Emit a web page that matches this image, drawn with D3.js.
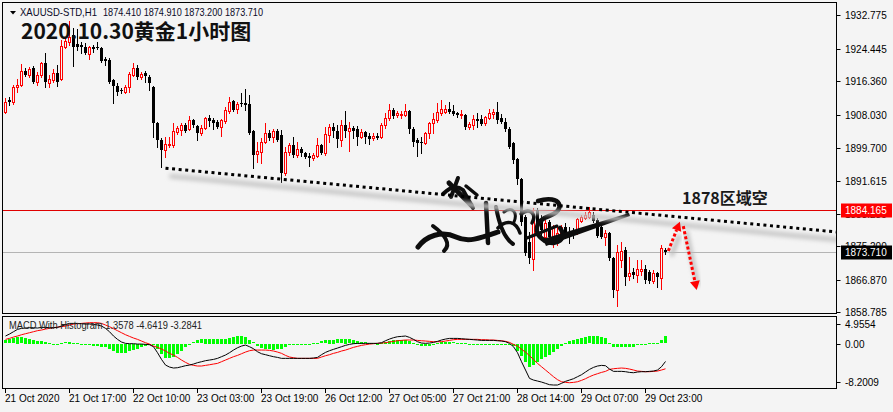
<!DOCTYPE html>
<html><head><meta charset="utf-8">
<script src="https://cdn.jsdelivr.net/npm/d3@7"></script>
<style>body{margin:0;background:#f4f4f4}svg{display:block}</style>
</head><body><svg id="c" width="893" height="412"></svg>
<script>
// ---------- data (XAUUSD H1) ----------
const open=[1908.69,1911.68,1911.18,1914.92,1915.42,1918.90,1917.91,1919.65,1916.16,1917.91,
1920.90,1915.91,1916.66,1918.41,1916.91,1924.88,1926.13,1927.87,1925.63,1925.38,
1924.88,1923.14,1924.88,1924.88,1924.63,1921.89,1921.64,1916.66,1915.17,1914.17,
1913.67,1914.92,1917.91,1919.65,1917.41,1918.41,1917.41,1914.92,1905.95,1901.72,
1899.23,1900.47,1900.47,1903.71,1904.21,1905.45,1904.46,1906.70,1905.20,1903.46,
1904.71,1907.20,1906.70,1906.20,1904.95,1906.45,1908.94,1911.43,1909.44,1910.93,
1910.93,1910.68,1903.96,1898.23,1898.73,1901.22,1903.46,1902.46,1903.96,1902.96,
1893.50,1898.73,1900.47,1897.98,1899.47,1898.48,1897.73,1897.23,1897.73,1900.47,
1898.48,1902.96,1904.95,1903.96,1901.72,1905.45,1903.96,1904.71,1904.46,1902.46,
1903.71,1902.71,1902.21,1902.71,1902.46,1905.45,1907.20,1909.19,1907.94,1907.94,
1907.94,1908.94,1904.46,1901.72,1901.22,1900.97,1903.46,1905.95,1906.70,1908.44,
1908.69,1909.44,1908.94,1908.44,1907.94,1907.94,1904.95,1905.45,1906.95,1906.95,
1905.95,1907.20,1908.19,1908.69,1907.20,1906.20,1904.46,1900.97,1896.98,1892.00,
1882.54,1876.31,1872.07,1884.28,1881.29,1877.56,1881.29,1877.56,1876.81,1878.05,
1880.05,1878.80,1878.80,1878.55,1881.54,1882.29,1882.54,1883.04,1881.79,1880.05,
1877.56,1878.55,1872.32,1864.35,1871.82,1874.32,1867.84,1868.83,1868.09,1869.08,
1869.58,1868.83,1866.59,1868.58,1867.34,1874.41];
const high=[1912.18,1912.43,1915.42,1916.91,1920.65,1919.65,1919.90,1920.15,1918.65,1921.15,
1923.39,1917.91,1919.40,1920.40,1926.63,1927.37,1931.36,1929.61,1929.36,1926.13,
1925.88,1925.13,1925.38,1926.13,1924.88,1922.39,1922.14,1916.91,1915.91,1914.67,
1915.42,1918.65,1920.90,1920.40,1918.65,1918.90,1917.91,1915.17,1906.20,1902.21,
1902.46,1902.46,1905.95,1905.20,1905.95,1905.95,1907.70,1906.95,1905.45,1905.45,
1907.45,1907.94,1907.20,1906.70,1906.95,1909.94,1912.43,1911.68,1911.18,1913.42,
1914.42,1912.93,1904.21,1901.22,1902.21,1905.95,1904.21,1904.46,1904.46,1904.21,
1899.97,1900.97,1902.46,1901.22,1899.97,1898.73,1898.48,1898.48,1902.21,1900.72,
1904.95,1905.70,1905.95,1905.45,1906.70,1908.94,1906.20,1905.20,1905.20,1904.46,
1903.96,1903.46,1903.46,1903.46,1905.95,1908.44,1910.68,1909.69,1908.94,1908.94,
1910.68,1909.19,1904.95,1902.21,1902.46,1903.71,1906.20,1908.44,1910.93,1911.68,
1910.43,1911.18,1910.43,1908.69,1909.19,1908.19,1906.20,1907.94,1908.44,1907.94,
1907.70,1909.44,1909.44,1911.18,1908.19,1907.20,1904.95,1901.22,1897.23,1892.25,
1883.04,1878.80,1884.78,1884.78,1883.04,1881.79,1881.79,1880.55,1880.55,1880.55,
1881.05,1880.05,1879.80,1882.29,1883.04,1883.79,1885.03,1883.79,1882.29,1881.05,
1879.30,1878.80,1872.57,1875.56,1876.31,1875.06,1872.57,1869.83,1871.82,1871.82,
1870.58,1869.33,1869.33,1868.83,1875.56,1874.91];
const low=[1908.44,1910.43,1910.68,1913.67,1915.17,1917.66,1917.41,1915.91,1915.42,1917.41,
1914.92,1914.92,1916.16,1915.17,1916.66,1924.63,1925.38,1920.15,1924.14,1923.39,
1923.14,1921.89,1923.64,1924.38,1921.15,1920.40,1915.91,1910.93,1912.93,1913.42,
1913.42,1913.67,1917.66,1916.91,1916.91,1916.16,1914.17,1902.46,1899.97,1894.99,
1897.48,1899.97,1899.97,1903.21,1902.96,1903.71,1904.21,1904.95,1901.72,1902.96,
1904.46,1905.20,1904.46,1904.71,1902.71,1905.95,1908.44,1908.94,1908.44,1910.19,
1909.19,1903.21,1894.74,1896.24,1895.99,1900.97,1901.72,1901.22,1901.47,1891.25,
1893.00,1897.98,1897.48,1897.48,1897.73,1897.23,1895.24,1896.73,1897.48,1898.23,
1897.98,1901.22,1902.46,1899.97,1900.22,1902.46,1898.98,1902.21,1900.47,1902.21,
1900.97,1900.72,1901.72,1901.97,1902.21,1904.71,1906.70,1907.20,1907.45,1907.20,
1907.70,1903.46,1900.22,1897.73,1898.48,1900.72,1902.21,1903.46,1906.20,1907.94,
1908.44,1908.44,1907.94,1907.45,1907.20,1904.46,1904.46,1904.46,1904.95,1905.45,
1905.45,1906.95,1907.20,1905.95,1905.95,1903.96,1899.72,1895.99,1890.76,1880.55,
1873.07,1871.07,1869.33,1878.55,1878.05,1876.81,1876.81,1875.06,1875.56,1877.56,
1877.31,1876.06,1877.31,1878.30,1881.29,1882.04,1882.29,1881.29,1877.56,1877.31,
1875.56,1871.82,1862.61,1860.37,1870.08,1865.60,1866.84,1867.34,1866.34,1868.09,
1866.09,1866.09,1866.09,1865.10,1864.60,1873.20];
const close=[1911.18,1911.18,1914.92,1915.42,1918.90,1917.91,1919.40,1916.16,1917.91,1920.90,
1916.16,1916.91,1918.41,1916.16,1925.13,1926.38,1927.37,1924.88,1924.88,1924.88,
1923.39,1924.88,1924.38,1924.63,1921.39,1921.39,1916.16,1915.17,1913.67,1913.92,
1914.92,1918.16,1919.65,1917.41,1918.16,1917.66,1915.91,1905.95,1901.72,1899.23,
1900.72,1900.72,1903.96,1904.71,1905.45,1903.96,1906.70,1905.45,1903.46,1904.71,
1907.20,1906.45,1905.95,1904.95,1906.70,1909.19,1911.18,1909.19,1910.68,1910.68,
1910.43,1903.46,1897.98,1898.98,1901.22,1903.46,1902.21,1903.96,1901.72,1893.50,
1898.73,1900.47,1897.98,1899.47,1898.48,1897.48,1897.23,1897.98,1900.47,1898.48,
1903.21,1904.95,1903.96,1901.97,1905.45,1903.96,1904.71,1903.96,1902.46,1903.71,
1902.46,1901.97,1902.71,1902.21,1905.45,1907.20,1909.19,1907.70,1908.44,1908.19,
1908.94,1904.46,1901.22,1900.97,1900.97,1903.46,1905.95,1906.95,1908.69,1909.44,
1909.44,1908.69,1908.19,1907.94,1908.19,1904.95,1905.70,1906.95,1906.45,1905.70,
1907.45,1908.44,1908.69,1906.70,1906.20,1904.46,1899.97,1896.73,1892.00,1881.29,
1873.57,1872.32,1882.54,1881.05,1879.30,1881.05,1877.56,1880.05,1878.55,1880.05,
1878.55,1878.55,1878.30,1882.04,1882.54,1883.04,1883.79,1881.54,1877.80,1877.56,
1878.55,1872.32,1864.35,1873.82,1874.07,1867.59,1868.58,1868.09,1869.58,1869.58,
1866.84,1866.59,1868.58,1867.59,1874.81,1873.71];

const macd=[1.43,1.80,2.23,2.66,2.85,2.91,2.97,2.97,2.91,3.03,
3.03,2.97,2.97,3.03,3.28,3.53,3.77,3.77,3.77,3.71,
3.65,3.65,3.59,3.47,3.28,2.85,2.23,1.43,0.81,0.32,
0.07,0.01,0.01,-0.06,-0.06,-0.12,-0.18,-0.55,-1.66,-2.90,
-3.95,-4.32,-4.50,-4.44,-4.26,-4.07,-3.95,-3.76,-3.51,-3.33,
-3.14,-3.02,-2.90,-2.71,-2.40,-2.09,-1.66,-1.17,-0.74,-0.43,
-0.24,-0.55,-0.92,-1.48,-1.85,-2.03,-2.22,-2.40,-2.53,-2.71,
-2.71,-2.71,-2.71,-2.71,-2.71,-2.71,-2.71,-2.65,-2.53,-2.03,
-1.60,-1.29,-1.04,-0.80,-0.55,-0.30,-0.12,0.01,0.07,0.07,
0.07,0.07,0.07,0.07,0.19,0.56,0.87,1.12,1.30,1.36,
1.43,1.18,0.81,0.38,0.13,0.07,0.13,0.25,0.44,0.69,
0.87,0.99,0.99,0.99,0.93,0.87,0.81,0.75,0.69,0.62,
0.62,0.62,0.62,0.56,0.50,0.38,0.07,-0.55,-1.66,-3.33,
-4.87,-6.42,-6.73,-6.91,-7.10,-7.34,-7.59,-7.65,-7.65,-7.34,
-6.97,-6.73,-6.48,-6.11,-5.74,-5.24,-4.75,-4.38,-4.13,-4.01,
-4.07,-4.69,-5.12,-5.12,-5.12,-5.18,-5.31,-5.37,-5.24,-5.18,
-5.18,-5.12,-5.06,-4.87,-4.26,-3.2841];
const signal=[0.81,0.99,1.24,1.43,1.67,1.86,2.04,2.23,2.42,2.54,
2.72,2.85,2.97,3.09,3.16,3.28,3.47,3.65,3.71,3.77,
3.84,3.90,3.90,3.90,3.77,3.47,3.16,2.79,2.42,2.04,
1.67,1.36,1.06,0.81,0.50,0.19,-0.06,-0.43,-0.67,-0.98,
-1.35,-1.78,-2.09,-2.53,-3.02,-3.45,-3.82,-4.01,-4.13,-4.13,
-4.01,-3.89,-3.76,-3.64,-3.33,-3.02,-2.71,-2.40,-2.16,-1.85,
-1.54,-1.29,-1.17,-1.17,-1.17,-1.17,-1.23,-1.35,-1.54,-1.78,
-2.16,-2.46,-2.59,-2.71,-2.71,-2.71,-2.71,-2.71,-2.71,-2.46,
-2.22,-2.03,-1.78,-1.60,-1.35,-1.17,-0.92,-0.67,-0.49,-0.30,
-0.18,-0.06,0.01,0.07,0.13,0.19,0.32,0.44,0.56,0.62,
0.69,0.69,0.69,0.62,0.56,0.50,0.44,0.38,0.38,0.38,
0.50,0.62,0.75,0.81,0.81,0.81,0.81,0.81,0.81,0.75,
0.75,0.69,0.69,0.62,0.56,0.44,0.25,-0.12,-0.43,-1.04,
-1.54,-2.22,-2.90,-3.64,-4.26,-4.87,-5.49,-6.11,-6.66,-7.04,
-7.16,-7.22,-7.16,-7.04,-6.79,-6.48,-6.11,-5.80,-5.55,-5.31,
-5.12,-4.75,-4.63,-4.56,-4.50,-4.56,-4.69,-4.87,-5.06,-5.12,
-5.18,-5.18,-5.12,-5.06,-4.87,-4.6419];
const hist=[0.62,0.81,0.99,1.23,1.18,1.05,0.93,0.74,0.49,0.49,
0.31,0.12,0.00,-0.06,0.12,0.25,0.30,0.12,0.06,-0.06,
-0.19,-0.25,-0.31,-0.43,-0.49,-0.62,-0.93,-1.36,-1.61,-1.72,
-1.60,-1.35,-1.05,-0.87,-0.56,-0.31,-0.12,-0.12,-0.99,-1.92,
-2.60,-2.54,-2.41,-1.91,-1.24,-0.62,-0.13,0.25,0.62,0.80,
0.87,0.87,0.86,0.93,0.93,0.93,1.05,1.23,1.42,1.42,
1.30,0.74,0.25,-0.31,-0.68,-0.86,-0.99,-1.05,-0.99,-0.93,
-0.55,-0.25,-0.12,0.00,0.00,0.00,0.00,0.06,0.18,0.43,
0.62,0.74,0.74,0.80,0.80,0.87,0.80,0.68,0.56,0.37,
0.25,0.13,0.06,0.00,0.06,0.37,0.55,0.68,0.74,0.74,
0.74,0.49,0.12,-0.24,-0.43,-0.43,-0.31,-0.13,0.06,0.31,
0.37,0.37,0.24,0.18,0.12,0.06,0.00,-0.06,-0.12,-0.13,
-0.13,-0.07,-0.07,-0.06,-0.06,-0.06,-0.18,-0.43,-1.23,-2.29,
-3.33,-4.20,-3.83,-3.27,-2.84,-2.47,-2.10,-1.54,-0.99,-0.30,
0.19,0.49,0.68,0.93,1.05,1.24,1.36,1.42,1.42,1.30,
1.05,0.06,-0.49,-0.56,-0.62,-0.62,-0.62,-0.50,-0.18,-0.06,
0.00,0.06,0.06,0.19,0.61,1.3578];

const priceTicks=[1932.775,1924.445,1916.360,1908.030,1899.700,1891.615,1883.285,1875.200,1866.870,1858.785];
const macdTicks=[4.9554,0.00,-8.2009];
const macdTickLabels=["4.9554","0.00","-8.2009"];
const timeTickBars=[0,16,32,48,64,80,96,112,128,144,160];
const timeTickLabels=["21 Oct 2020","21 Oct 17:00","22 Oct 10:00","23 Oct 03:00","23 Oct 19:00","26 Oct 12:00","27 Oct 05:00","27 Oct 21:00","28 Oct 14:00","29 Oct 07:00","29 Oct 23:00"];
const levelPrice=1884.165;     // red horizontal level
const lastPrice=1873.710;      // bid line
const trendBars=[40,207.75], trendPrices=[1894.7,1878.8];
const arrowUpBars=[165.7,168.6], arrowUpPrices=[1874.07,1881.37];
const arrowDnBars=[169.45,172.8], arrowDnPrices=[1880.24,1864.35];
const headerSymbol="XAUUSD-STD,H1";
const headerValues="1874.410 1874.910 1873.200 1873.710";
const titleText="2020.10.30黄金1小时图";
const noteText="1878区域空";
const macdText="MACD With Histogram 1.3578 -4.6419 -3.2841";

// ---------- drawing ----------
const svg=d3.select("#c");
const BG="#f4f4f4";
const MT="'Liberation Sans','DejaVu Sans',sans-serif";
const L=2, R=836, T=2, B=313, MT0=316, MB=388;
const x=d3.scaleLinear().domain([0,165]).range([5.5,665.5]);
const y=d3.scaleLinear().domain([1858.785,1932.775]).range([312.3,15.3]);
const ym=d3.scaleLinear().domain([-8.2009,4.9554]).range([MB,MT0+1]);

const defs=svg.append("defs");
defs.append("clipPath").attr("id","cm").append("rect").attr("x",L).attr("y",T).attr("width",R-L).attr("height",B-T);
defs.append("clipPath").attr("id","cd").append("rect").attr("x",L).attr("y",MT0).attr("width",R-L).attr("height",MB-MT0);
defs.append("filter").attr("id","blur").attr("x","-20%").attr("y","-50%").attr("width","140%").attr("height","200%")
  .append("feGaussianBlur").attr("stdDeviation",2.2);

svg.append("rect").attr("width",893).attr("height",412).attr("fill",BG);

const gm=svg.append("g").attr("clip-path","url(#cm)");

// level line and bid line
gm.append("line").attr("x1",L).attr("x2",R).attr("y1",Math.round(y(levelPrice))+0.5).attr("y2",Math.round(y(levelPrice))+0.5)
  .attr("stroke","#e00000").attr("stroke-width",1);
gm.append("line").attr("x1",L).attr("x2",R).attr("y1",Math.round(y(lastPrice))+0.5).attr("y2",Math.round(y(lastPrice))+0.5)
  .attr("stroke","#b4b4b4").attr("stroke-width",1);

// candles
const bars=d3.range(close.length).map(i=>({i,o:open[i],h:high[i],l:low[i],c:close[i],up:close[i]>open[i]}));
const gc=gm.append("g").attr("shape-rendering","crispEdges");
gc.selectAll("line.w").data(bars).join("line").attr("class","w")
  .attr("x1",d=>x(d.i)).attr("x2",d=>x(d.i))
  .attr("y1",d=>Math.round(y(d.h))).attr("y2",d=>Math.round(y(d.l))+1)
  .attr("stroke",d=>d.up?"#ff0000":"#000");
gc.selectAll("rect.b").data(bars).join("rect").attr("class","b")
  .each(function(d){
    const t=Math.round(y(Math.max(d.o,d.c))), b=Math.round(y(Math.min(d.o,d.c)));
    const s=d3.select(this);
    if(d.up){
      s.attr("x",x(d.i)-1).attr("y",t+0.5).attr("width",2).attr("height",Math.max(b-t,1))
       .attr("fill",BG).attr("stroke","#ff0000").attr("stroke-width",1);
    } else {
      s.attr("x",x(d.i)-1.5).attr("y",t).attr("width",3).attr("height",Math.max(b-t,1)).attr("fill","#000");
    }
  });

// signature (decorative handwritten scribble)
const sig=gm.append("g").attr("fill","none").attr("stroke","#0d0d0d").attr("stroke-linecap","round").attr("stroke-linejoin","round");
[
 ["M449,183 C456,190 463,197 471,205",5],["M443,194 Q454,183 463,190 L473,208",4],["M458,178 L451,197",4],
 ["M466,186 L477,195",3.5],
 ["M418,247 C426,236 442,230 456,237 C468,243 481,238 498,232",5],
 ["M433,226 C444,234 452,244 444,251",4],
 ["M486,203 L488,243",4.5],["M496,207 C499,224 504,238 513,244",4],["M498,228 C506,219 516,221 520,233",3.5],
 ["M504,212 C512,206 518,212 514,222",3],
 ["M538,201 C561,194 567,210 549,216 C535,221 532,233 545,241 C557,247 568,238 560,228",4.5],
 ["M527,238 L557,226",3],["M521,214 C530,207 537,214 532,223",3.5]
].forEach(p=>sig.append("path").attr("d",p[0]).attr("stroke-width",p[1]));
gm.append("path").attr("d","M543,239 L629,213 L630,216 L546,246 Z").attr("fill","#0d0d0d");

// trend line (dotted with shadow)
const tl=[[x(trendBars[0]),y(trendPrices[0])],[x(trendBars[1]),y(trendPrices[1])]];
gm.append("line").attr("x1",tl[0][0]+4).attr("y1",tl[0][1]+8).attr("x2",tl[1][0]+4).attr("y2",tl[1][1]+8)
  .attr("stroke","#c8c8c8").attr("stroke-width",5).attr("filter","url(#blur)");
gm.append("line").attr("x1",tl[0][0]).attr("y1",tl[0][1]).attr("x2",tl[1][0]).attr("y2",tl[1][1])
  .attr("stroke","#000").attr("stroke-width",3).attr("stroke-dasharray","3 3.6");

// red dotted arrows
function arrow(bx,py){
  const x1=x(bx[0]),y1=y(py[0]),x2=x(bx[1]),y2=y(py[1]);
  const a=Math.atan2(y2-y1,x2-x1), len=9, wd=5;
  const bxp=x2-len*Math.cos(a), byp=y2-len*Math.sin(a);
  const head=[[x2,y2],[bxp+wd*Math.sin(a),byp-wd*Math.cos(a)],[bxp-wd*Math.sin(a),byp+wd*Math.cos(a)]];
  gm.append("line").attr("x1",x1+3).attr("y1",y1+5).attr("x2",bxp+3).attr("y2",byp+5)
    .attr("stroke","#bbb").attr("stroke-width",4).attr("filter","url(#blur)");
  gm.append("line").attr("x1",x1).attr("y1",y1).attr("x2",bxp).attr("y2",byp)
    .attr("stroke","#ff0000").attr("stroke-width",3).attr("stroke-dasharray","3 2.2");
  gm.append("polygon").attr("points",head.map(p=>p.join(",")).join(" ")).attr("fill","#ff0000");
}
arrow(arrowUpBars,arrowUpPrices);
arrow(arrowDnBars,arrowDnPrices);

// annotation texts
svg.append("text").attr("x",682).attr("y",203.5).text(noteText)
  .attr("font-family","'Noto Sans CJK SC','Noto Sans',sans-serif").attr("font-weight","bold").attr("font-size",16).attr("fill","#1a1a1a");
svg.append("text").attr("x",21).attr("y",39).text(titleText)
  .attr("font-family","'Noto Sans CJK SC','Noto Sans',sans-serif").attr("font-weight","bold").attr("font-size",21).attr("fill","#111");
svg.append("polygon").attr("points","10,11 16,11 13,14.5").attr("fill","#000");
svg.append("text").attr("x",20).attr("y",16).text(headerSymbol)
  .attr("font-family",MT).attr("font-size",10.5).attr("fill","#0a0a28").attr("textLength",77).attr("lengthAdjust","spacingAndGlyphs");
svg.append("text").attr("x",103).attr("y",16).text(headerValues)
  .attr("font-family",MT).attr("font-size",10.5).attr("fill","#0a0a28").attr("textLength",160).attr("lengthAdjust","spacingAndGlyphs");

// ---------- MACD window ----------
const gd=svg.append("g").attr("clip-path","url(#cd)");
gd.append("g").attr("shape-rendering","crispEdges").selectAll("rect").data(hist.map((v,i)=>({v,i}))).join("rect")
  .attr("x",d=>x(d.i)-1.5).attr("width",3)
  .attr("y",d=>Math.round(Math.min(ym(0),ym(d.v))))
  .attr("height",d=>Math.max(1,Math.round(Math.abs(ym(d.v)-ym(0)))))
  .attr("fill","#00ff00");
const ln=d3.line().x((d,i)=>x(i)).y(d=>ym(d));
gd.append("path").attr("d",ln(signal)).attr("fill","none").attr("stroke","#ff0000").attr("stroke-width",1);
gd.append("path").attr("d",ln(macd)).attr("fill","none").attr("stroke","#000").attr("stroke-width",1);
svg.append("text").attr("x",9).attr("y",329).text(macdText).attr("font-family",MT).attr("font-size",10).attr("fill","#222")
  .attr("textLength",193).attr("lengthAdjust","spacingAndGlyphs");

// ---------- frames ----------
svg.append("rect").attr("x",L+0.5).attr("y",T+0.5).attr("width",R-L).attr("height",B-T).attr("fill","none").attr("stroke","#000").attr("shape-rendering","crispEdges");
svg.append("rect").attr("x",L+0.5).attr("y",MT0+0.5).attr("width",R-L).attr("height",MB-MT0).attr("fill","none").attr("stroke","#000").attr("shape-rendering","crispEdges");

// price axis
const ga=svg.append("g").attr("font-family",MT).attr("font-size",10).attr("fill","#000");
priceTicks.forEach(p=>{
  const yy=Math.round(y(p))+0.5;
  ga.append("line").attr("x1",R+0.5).attr("x2",R+4.5).attr("y1",yy).attr("y2",yy).attr("stroke","#000");
  ga.append("text").attr("x",845).attr("y",yy).attr("dy","0.36em").text(d3.format(".3f")(p));
});
// MACD axis
macdTicks.forEach((v,k)=>{
  const yy=Math.round(Math.max(MT0+8,Math.min(MB-6,ym(v))))+0.5;
  ga.append("line").attr("x1",R+0.5).attr("x2",R+4.5).attr("y1",yy).attr("y2",yy).attr("stroke","#000");
  ga.append("text").attr("x",845).attr("y",yy).attr("dy","0.36em").text(macdTickLabels[k]);
});
// price label boxes (drawn over the axis labels they hide)
[[levelPrice,"#ff0000"],[lastPrice,"#000"]].forEach(([p,col])=>{
  const yy=y(p);
  ga.append("rect").attr("x",841).attr("y",Math.round(yy)-6.5).attr("width",51).attr("height",14).attr("fill",col);
  ga.append("text").attr("x",845).attr("y",Math.round(yy)+0.5).attr("dy","0.36em").attr("fill","#fff").text(d3.format(".3f")(p));
});
// time axis
timeTickBars.forEach((b,k)=>{
  const xx=Math.round(x(b)-1)+0.5;
  ga.append("line").attr("x1",xx).attr("x2",xx).attr("y1",MB+0.5).attr("y2",MB+5).attr("stroke","#000");
  ga.append("text").attr("x",xx-0.5).attr("y",402).text(timeTickLabels[k]);
});
</script></body></html>
